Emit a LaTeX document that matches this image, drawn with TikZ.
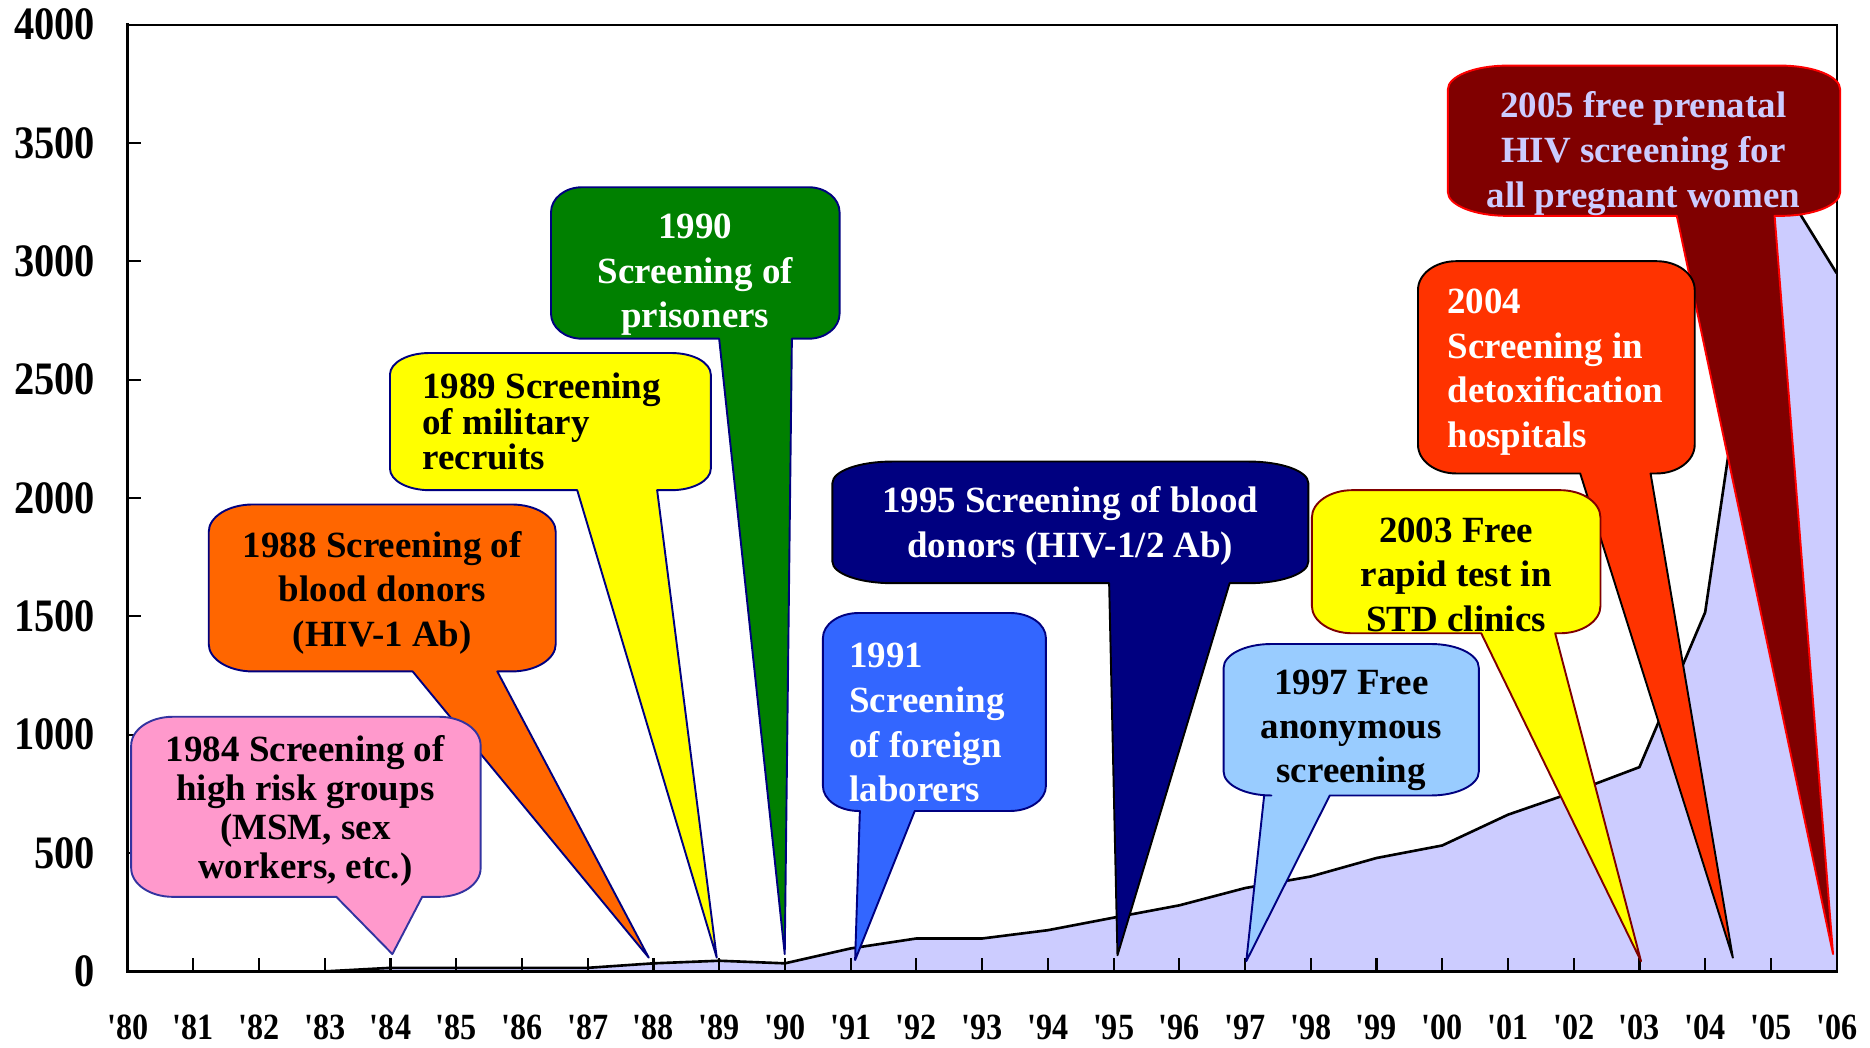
\documentclass[tikz,border=0pt]{standalone}
\usepackage{fontspec}
\setmainfont{Liberation Serif}
\newfontfamily\axfont{Liberation Serif}[FakeStretch=0.87,Ligatures=TeXOff]
\definecolor{pinkc}{HTML}{FF99CC}
\definecolor{orangec}{HTML}{FF6600}
\definecolor{yellowc}{HTML}{FFFF00}
\definecolor{greenc}{HTML}{008000}
\definecolor{bluec}{HTML}{3366FF}
\definecolor{navyc}{HTML}{000080}
\definecolor{lbluec}{HTML}{99CCFF}
\definecolor{redc}{HTML}{FF3300}
\definecolor{maroonc}{HTML}{800000}
\definecolor{lavc}{HTML}{CCCCFF}
\definecolor{pinkbrd}{HTML}{3333A0}
\newcommand\crx{30}
\newcommand\cry{22}
\newcommand\setr[2]{\renewcommand\crx{#1}\renewcommand\cry{#2}}
% #1 style, #2 left, #3 top, #4 right, #5 bottom, #6 tail base left, #7 tail base right, #8 tip x, #9 tip y
\newcommand\bubble[9]{%
 \path[#1] ({#2+\crx},#3) -- ({#4-\crx},#3)
  .. controls ({#4-0.448*\crx},#3) and (#4,{#3+0.448*\cry}) .. (#4,{#3+\cry})
  -- (#4,{#5-\cry})
  .. controls (#4,{#5-0.448*\cry}) and ({#4-0.448*\crx},#5) .. ({#4-\crx},#5)
  -- (#7,#5) -- (#8,#9) -- (#6,#5) -- ({#2+\crx},#5)
  .. controls ({#2+0.448*\crx},#5) and (#2,{#5-0.448*\cry}) .. (#2,{#5-\cry})
  -- (#2,{#3+\cry})
  .. controls (#2,{#3+0.448*\cry}) and ({#2+0.448*\crx},#3) .. ({#2+\crx},#3) -- cycle;}
\tikzset{
  boxline/.style={line width=1.6pt, line join=round},
  lbl/.style={inner sep=0pt, font=\bfseries\fontsize{31}{#1}\selectfont},
  lbl/.default=37.5,
  ylab/.style={anchor=east, inner sep=0pt, font=\axfont\bfseries\fontsize{39}{39}\selectfont},
  xlab/.style={inner sep=0pt, text depth=0pt, font=\axfont\bfseries\fontsize{31}{31}\selectfont},
}
\begin{document}
\begin{tikzpicture}[x=1pt,y=-1pt]
\useasboundingbox (0,0) rectangle (1568,878);
\fill[white] (0,0) rectangle (1568,878);
% ---- data and axes
\begin{scope}[x=55.115pt,y=0.19845pt,shift={(107pt,-814.5pt)}]
 \fill[lavc] (3,0) -- (4,15) -- (5,15) -- (6,15) -- (7,15) -- (8,34) -- (9,45) -- (10,34) -- (11,97) -- (12,139) -- (13,139) -- (14,174) -- (15,227) -- (16,279) -- (17,352) -- (18,401) -- (19,479) -- (20,532) -- (21,662) -- (22,758) -- (23,863) -- (24,1517) -- (25,3400) -- (26,2950) -- (26,0) -- cycle;
 \draw[line width=2.2pt, line join=round] (3,0) -- (4,15) -- (5,15) -- (6,15) -- (7,15) -- (8,34) -- (9,45) -- (10,34) -- (11,97) -- (12,139) -- (13,139) -- (14,174) -- (15,227) -- (16,279) -- (17,352) -- (18,401) -- (19,479) -- (20,532) -- (21,662) -- (22,758) -- (23,863) -- (24,1517) -- (25,3400) -- (26,2950);
 \foreach \i in {1,...,25} \draw[line width=1.8pt] (\i,0) -- ++(0pt,11pt);
 \foreach \v in {500,1000,...,3500} \draw[line width=1.8pt] (0,\v) -- ++(11pt,0pt);
 \draw[line width=1.6pt] (0,4000) -- (26,4000) -- (26,0);
 \draw[line width=2.6pt, line cap=rect] (0,4000) -- (0,0) -- (26,0);
\end{scope}
% ---- axis labels
\foreach \v [count=\k] in {0,500,...,4000}
  \node[ylab] (yl\k) at (80,{814.5-0.19845*\v}) {\v};
\foreach \yy [count=\k from 0] in {80,81,82,83,84,85,86,87,88,89,90,91,92,93,94,95,96,97,98,99,00,01,02,03,04,05,06}
  \node[xlab] (xl\k) at ({107+\k*55.115},861.5) {'\yy};
% ---- callouts
\setr{50}{20}
\bubble{fill=maroonc, draw=red, boxline}{1214}{55}{1543}{181}{1406}{1488}{1537}{800}
\node[lbl=37.7, align=center, text=lavc] (t05) at (1378,129) {2005 free prenatal\\HIV screening for\\all pregnant women};
\setr{32}{24}
\bubble{fill=redc, draw=black, boxline}{1189}{219}{1421}{397}{1325}{1384}{1453}{803}
\node[lbl=37.3, align=left, anchor=west, text=white] (t04) at (1213.5,312) {2004\\Screening in\\detoxification\\hospitals};
\setr{34}{23}
\bubble{fill=yellowc, draw=maroonc, boxline}{1100}{411}{1342}{531}{1242}{1304}{1376}{806}
\node[lbl=37, align=center, text=black] (t03) at (1221,482) {2003 Free\\rapid test in\\STD clinics};
\setr{40}{20}
\bubble{fill=lbluec, draw=navyc, boxline}{1026}{540}{1240}{667}{1060}{1115}{1045}{806}
\node[lbl=37, align=center, text=black] (t97) at (1133,612.5) {1997 Free\\anonymous\\screening};
\setr{50}{18}
\bubble{fill=navyc, draw=black, boxline}{698}{387}{1097}{489}{930}{1031}{937}{801}
\node[lbl=38, align=center, text=white] (t95) at (897.5,441) {1995 Screening of blood\\donors (HIV-1/2 Ab)};
\setr{30}{21}
\bubble{fill=bluec, draw=navyc, boxline}{690}{514}{877}{680}{721}{767}{717}{805}
\node[lbl=37.5, align=left, anchor=west, text=white] (t91) at (712,606) {1991\\Screening\\of foreign\\laborers};
\setr{26}{21}
\bubble{fill=greenc, draw=navyc, boxline}{462}{157}{704}{284}{603}{664}{658}{800}
\node[lbl=37.5, align=center, text=white] (t90) at (583,230.5) {1990\\Screening of\\prisoners};
\setr{33}{18}
\bubble{fill=yellowc, draw=navyc, boxline}{327}{296}{596}{411}{484}{551}{601}{803}
\node[lbl=30, align=left, anchor=west, text=black] (t89) at (354,353.5) {1989 Screening\\of military\\recruits};
\setr{37}{23}
\bubble{fill=orangec, draw=navyc, boxline}{175}{423}{466}{563}{346}{417}{544}{803}
\node[lbl=37.5, align=center, text=black] (t88) at (320.5,497) {1988 Screening of\\blood donors\\(HIV-1 Ab)};
\setr{35}{24}
\bubble{fill=pinkc, draw=pinkbrd, boxline}{110}{601}{403}{752}{282}{354}{329}{800}
\node[lbl=32.7, align=center, text=black] (t84) at (256,680) {1984 Screening of\\high risk groups\\(MSM, sex\\workers, etc.)};
\end{tikzpicture}
\end{document}
